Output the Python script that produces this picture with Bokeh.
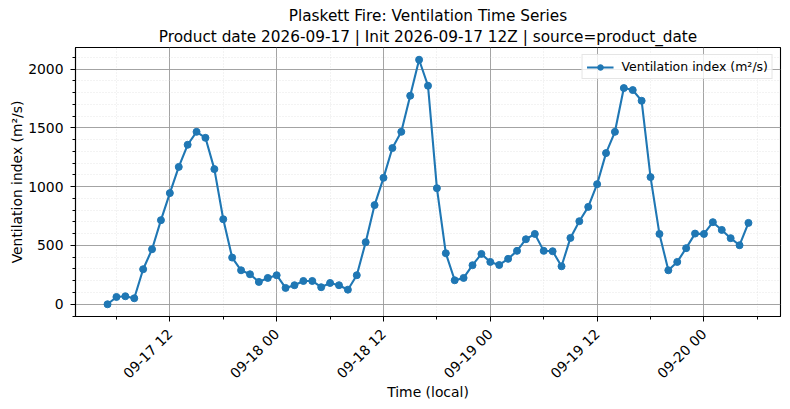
import math
from datetime import datetime, timedelta

from bokeh.plotting import figure
from bokeh.models import (Range1d, FixedTicker, SingleIntervalTicker,
                          DatetimeTickFormatter, Title, Legend, LegendItem)
from bokeh.embed import file_html
from bokeh.resources import INLINE

# hourly ventilation index, 2026-09-17 05:00 .. 2026-09-20 05:00 (local)
start_time = datetime(2026, 9, 17, 5)
vent_index = [
    0, 62, 68, 51, 298, 468, 715, 945, 1168, 1356, 1466, 1415, 1149, 723,
    397, 289, 255, 190, 224, 247, 139, 162, 198, 198, 145, 181, 162, 124,
    247, 528, 843, 1075, 1328, 1466, 1773, 2079, 1858, 987, 434, 204, 224,
    332, 428, 360, 334, 386, 454, 553, 598, 454, 451, 323, 564, 706, 828,
    1021, 1285, 1466, 1838, 1821, 1730, 1081, 598, 289, 360, 477, 601, 598,
    698, 632, 562, 502, 692,
]
times = [start_time + timedelta(hours=i) for i in range(len(vent_index))]

title_line1 = "Plaskett Fire: Ventilation Time Series"
title_line2 = "Product date 2026-09-17 | Init 2026-09-17 12Z | source=product_date"
series_label = "Ventilation index (m\u00b2/s)"
x_label = "Time (local)"

BLUE = "#1f77b4"
FONT = "DejaVu Sans"


def ms(t):
    return (t - datetime(1970, 1, 1)).total_seconds() * 1000.0


def create_plot():
    # matplotlib-style 5% margins
    span = times[-1] - times[0]
    x0, x1 = times[0] - span * 0.05, times[-1] + span * 0.05
    ymin, ymax = min(vent_index), max(vent_index)
    pad = (ymax - ymin) * 0.05

    p = figure(
        width=788, height=402,
        x_axis_type="datetime",
        x_range=Range1d(x0, x1),
        y_range=Range1d(ymin - pad, ymax + pad),
        output_backend="svg",
        toolbar_location=None,
        tools="",
        min_border_left=75, min_border_right=8,
        min_border_top=47, min_border_bottom=60,
    )
    p.outline_line_color = "black"
    p.outline_line_width = 1.1

    # titles (bottom line first so it sits closer to the frame)
    p.add_layout(Title(text=title_line2, align="center", text_font=FONT,
                       text_font_size="15.3px", text_font_style="normal",
                       text_color="black", standoff=3), "above")
    p.add_layout(Title(text=title_line1, align="center", text_font=FONT,
                       text_font_size="15.3px", text_font_style="normal",
                       text_color="black", standoff=0), "above")

    # ticks: every 12 h with minor ones in between
    majors, minors = [], []
    t = datetime(2026, 9, 17, 0)
    while t <= x1:
        if t >= x0:
            (majors if t.hour % 12 == 0 else minors).append(ms(t))
        t += timedelta(hours=6)
    p.xaxis.ticker = FixedTicker(ticks=majors, minor_ticks=minors)
    fmt = "%m-%d %H"
    p.xaxis.formatter = DatetimeTickFormatter(
        hours=fmt, hourmin=fmt, days=fmt, months=fmt, minutes=fmt)
    p.xaxis.major_label_orientation = math.pi / 4
    p.yaxis.ticker = SingleIntervalTicker(interval=500, num_minor_ticks=5)

    for ax in (p.xaxis, p.yaxis):
        ax.axis_line_color = "black"
        ax.axis_line_width = 1.1
        ax.major_tick_in = 0
        ax.major_tick_out = 5
        ax.minor_tick_in = 0
        ax.minor_tick_out = 3
        ax.major_tick_line_color = "black"
        ax.minor_tick_line_color = "black"
        ax.major_label_text_font = FONT
        ax.major_label_text_font_size = "13.9px"
        ax.major_label_text_color = "black"
        ax.axis_label_text_font = FONT
        ax.axis_label_text_font_size = "13.9px"
        ax.axis_label_text_font_style = "normal"
        ax.axis_label_text_color = "black"
    p.xaxis.axis_label = x_label
    p.yaxis.axis_label = series_label
    # rotated date labels sit a bit lower, like matplotlib's ha="right"
    p.xaxis.major_label_standoff = 10
    p.xaxis.axis_label_standoff = -6
    p.yaxis.major_label_standoff = 7
    p.yaxis.axis_label_standoff = 0

    # grids
    for g in (p.xgrid, p.ygrid):
        g.grid_line_color = "#9a9a9a"
        g.grid_line_width = 0.9
        g.minor_grid_line_color = "#d8d8d8"
        g.minor_grid_line_width = 0.6
        g.minor_grid_line_dash = "1 2"

    line = p.line(times, vent_index, line_width=2.1, color=BLUE)
    dots = p.scatter(times, vent_index, size=7, color=BLUE)

    legend = Legend(
        items=[LegendItem(label=series_label, renderers=[line, dots])],
        location="top_right",
        margin=7, padding=4, spacing=0,
        glyph_width=27, glyph_height=14, label_height=14,
        label_standoff=8,
        label_text_font=FONT, label_text_font_size="12.5px",
        label_text_color="black",
        border_line_color="#cccccc", border_line_width=1,
        background_fill_alpha=0.8,
    )
    p.add_layout(legend)
    return p


p = create_plot()
open("out.html", "w").write(file_html(p, INLINE))
